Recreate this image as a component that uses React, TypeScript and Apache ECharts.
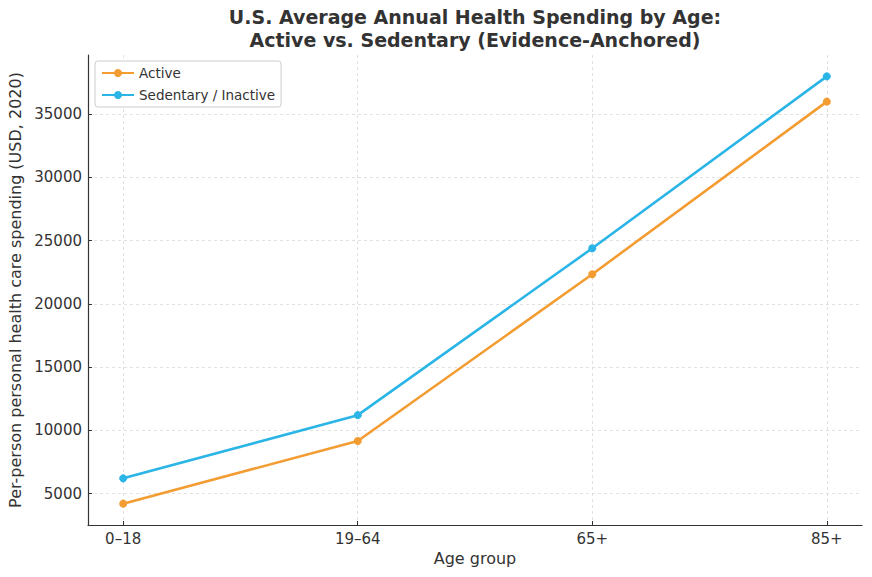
import React, { useEffect, useRef } from "react";
import * as echarts from "echarts";

const categories = ["0–18", "19–64", "65+", "85+"];
const activeValues = [4200, 9150, 22350, 36000];
const sedentaryValues = [6200, 11200, 24400, 38000];
const yTicks = [5000, 10000, 15000, 20000, 25000, 30000, 35000];
const xTicks = [0, 1, 2, 3];

export default function App() {
  const ref = useRef<HTMLDivElement>(null);
  useEffect(() => {
    if (!ref.current) return;
    const chart = echarts.init(ref.current, null, { renderer: "svg" });
    const font = "DejaVu Sans";
    const gridLine = { show: true, lineStyle: { color: "#d9d9d9", type: [3, 3], width: 0.8 } };
    chart.setOption({
      animation: false,
      backgroundColor: "#ffffff",
      textStyle: { fontFamily: font },
      title: {
        text: "U.S. Average Annual Health Spending by Age:\nActive vs. Sedentary (Evidence-Anchored)",
        left: 475,
        textAlign: "center",
        top: 5,
        padding: 0,
        textStyle: { fontFamily: font, fontSize: 19, fontWeight: "bold", color: "#333333", lineHeight: 23, align: "center" },
      },
      legend: {
        left: 95,
        top: 61,
        orient: "vertical",
        backgroundColor: "#ffffff",
        borderColor: "#cccccc",
        borderWidth: 1,
        borderRadius: 3,
        padding: [5, 6, 5, 6],
        itemGap: 8,
        itemWidth: 32,
        itemHeight: 10,
        textStyle: { fontFamily: font, fontSize: 13.5, color: "#333333" },
        data: ["Active", "Sedentary / Inactive"],
      },
      grid: { left: 88, right: 10, top: 55, bottom: 52, containLabel: false, outerBoundsMode: "none" },
      xAxis: {
        type: "value",
        min: -0.15,
        max: 3.15,
        name: "Age group",
        nameLocation: "middle",
        nameGap: 24,
        nameTextStyle: { fontFamily: font, fontSize: 16, color: "#333333" },
        axisLine: { show: true, onZero: false, lineStyle: { color: "#333333", width: 1.2 } },
        axisTick: { show: true, inside: true, length: 4, customValues: xTicks, lineStyle: { color: "#333333" } },
        axisLabel: {
          customValues: xTicks,
          margin: 6,
          fontFamily: font,
          fontSize: 15,
          color: "#333333",
          formatter: (v: number) => categories[Math.round(v)] ?? "",
        },
        splitLine: gridLine,
      },
      yAxis: {
        type: "value",
        min: 2510,
        max: 39690,
        name: "Per-person personal health care spending (USD, 2020)",
        nameLocation: "middle",
        nameGap: 63,
        nameRotate: 90,
        nameTextStyle: { fontFamily: font, fontSize: 16, color: "#333333" },
        axisLine: { show: true, onZero: false, lineStyle: { color: "#333333", width: 1.2 } },
        axisTick: { show: true, inside: true, length: 4, customValues: yTicks, lineStyle: { color: "#333333" } },
        axisLabel: {
          customValues: yTicks,
          margin: 6,
          fontFamily: font,
          fontSize: 15,
          color: "#333333",
          formatter: (v: number) => String(v),
        },
        splitLine: gridLine,
      },
      series: [
        {
          name: "Active",
          type: "line",
          data: activeValues.map((v, i) => [i, v]),
          symbol: "circle",
          symbolSize: 8,
          lineStyle: { width: 2.6, color: "#F39C32" },
          itemStyle: { color: "#F39C32" },
        },
        {
          name: "Sedentary / Inactive",
          type: "line",
          data: sedentaryValues.map((v, i) => [i, v]),
          symbol: "circle",
          symbolSize: 8,
          lineStyle: { width: 2.6, color: "#2BB5E6" },
          itemStyle: { color: "#2BB5E6" },
        },
      ],
    });
    return () => chart.dispose();
  }, []);
  return (
    <div
      ref={ref}
      style={{ position: "fixed", left: 0, top: 0, width: 872, height: 577, background: "#fff" }}
    />
  );
}
